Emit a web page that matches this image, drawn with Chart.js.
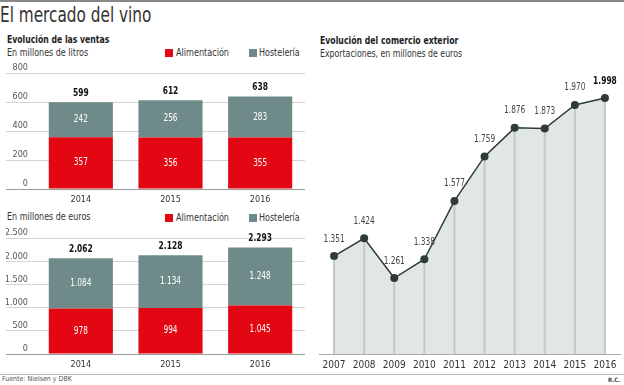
<!DOCTYPE html>
<html>
<head>
<meta charset="utf-8">
<script src="https://cdn.jsdelivr.net/npm/chart.js@4"></script>
<style>
body{margin:0;width:624px;height:385px;position:relative;background:#fff;overflow:hidden;
  font-family:"DejaVu Sans Condensed",sans-serif;color:#222}
.t{position:absolute;white-space:nowrap;line-height:1;transform-origin:left center}
.sq{position:absolute;width:8px;height:8px}
canvas{position:absolute}
</style>
</head>
<body>
<div class="t" style="left:0;top:0;width:624px;height:2px;background:#888"></div>
<div class="t" style="left:0;top:5px;font-size:21px;color:#333;transform:scaleX(0.81)">El mercado del vino</div>

<div class="t" style="left:7px;top:34px;font-size:11px;font-weight:bold;transform:scaleX(0.78)">Evolución de las ventas</div>
<div class="t" style="left:7px;top:48px;font-size:10px;color:#333;transform:scaleX(0.89)">En millones de litros</div>
<div class="sq" style="left:165px;top:49px;background:#e30613"></div>
<div class="t" style="left:176px;top:48px;font-size:10px;color:#333;transform:scaleX(0.9)">Alimentación</div>
<div class="sq" style="left:249px;top:49px;background:#6e8b8a"></div>
<div class="t" style="left:259px;top:48px;font-size:10px;color:#333;transform:scaleX(0.89)">Hostelería</div>

<div class="t" style="left:7px;top:212px;font-size:10px;color:#333;transform:scaleX(0.89)">En millones de euros</div>
<div class="sq" style="left:165px;top:214px;background:#e30613"></div>
<div class="t" style="left:176px;top:213px;font-size:10px;color:#333;transform:scaleX(0.9)">Alimentación</div>
<div class="sq" style="left:249px;top:214px;background:#6e8b8a"></div>
<div class="t" style="left:259px;top:213px;font-size:10px;color:#333;transform:scaleX(0.89)">Hostelería</div>

<div class="t" style="left:320px;top:35px;font-size:11px;font-weight:bold;transform:scaleX(0.785)">Evolución del comercio exterior</div>
<div class="t" style="left:320px;top:49px;font-size:10px;color:#333;transform:scaleX(0.87)">Exportaciones, en millones de euros</div>

<canvas id="litros" width="310" height="145" style="left:0;top:60px"></canvas>
<canvas id="euros" width="310" height="145" style="left:0;top:225px"></canvas>
<canvas id="export" width="312" height="302" style="left:312px;top:70px"></canvas>

<div class="t" style="left:0;top:374px;width:624px;height:1px;background:#bbb"></div>
<div class="t" style="left:2px;top:376px;font-size:7px;color:#555">Fuente: Nielsen y DBK</div>
<div class="t" style="left:608px;top:377px;font-size:6px;font-weight:bold;color:#444">R.C.</div>

<script>
const years = ['2014', '2015', '2016']
const litrosAlim = [357, 356, 355]
const litrosHost = [242, 256, 283]
const litrosTicks = [0, 200, 400, 600, 800]
const eurosAlim = [978, 994, 1045]
const eurosHost = [1084, 1134, 1248]
const eurosTicks = [0, 500, 1000, 1500, 2000, 2500]
const expYears = ['2007', '2008', '2009', '2010', '2011', '2012', '2013', '2014', '2015', '2016']
const exportaciones = [1351, 1424, 1261, 1338, 1577, 1759, 1876, 1873, 1970, 1998]

const FONT = '"DejaVu Sans Condensed",sans-serif'
const RED = '#e30613'
const GREY = '#6e8b8a'
Chart.defaults.font.family = FONT

// spanish thousands separator
const fmt = v => String(v).replace(/\B(?=(\d{3})+(?!\d))/g, '.')

// the original font is narrower, squeeze canvas text a bit
function squeezed(ctx, txt, x, y, sx) {
  ctx.save()
  ctx.translate(x, y)
  ctx.scale(sx, 1)
  ctx.fillText(txt, 0, 0)
  ctx.restore()
}

const barLabels = {
  id: 'barLabels',
  afterDatasetsDraw(chart) {
    const ctx = chart.ctx
    const sets = chart.data.datasets
    ctx.save()
    ctx.textAlign = 'center'
    ctx.textBaseline = 'middle'
    sets.forEach((ds, d) => {
      chart.getDatasetMeta(d).data.forEach((bar, i) => {
        ctx.font = '10px ' + FONT
        ctx.fillStyle = '#fff'
        squeezed(ctx, fmt(ds.data[i]), bar.x, (bar.y + bar.base) / 2, 0.82)
      })
    })
    chart.getDatasetMeta(sets.length - 1).data.forEach((bar, i) => {
      let total = sets.reduce((s, ds) => s + ds.data[i], 0)
      ctx.font = 'bold 11px ' + FONT
      ctx.fillStyle = '#111'
      squeezed(ctx, fmt(total), bar.x, bar.y - 9, 0.76)
    })
    ctx.restore()
  }
}

function makeBars(id, alim, host, ticks) {
  new Chart(document.getElementById(id), {
    type: 'bar',
    data: {
      labels: years,
      datasets: [
        { label: 'Alimentación', data: alim, backgroundColor: RED },
        { label: 'Hostelería', data: host, backgroundColor: GREY }
      ]
    },
    options: {
      responsive: false,
      animation: false,
      layout: { padding: { top: 13, right: 5, left: 6 } },
      categoryPercentage: 1,
      barPercentage: 0.715,
      plugins: { legend: { display: false }, tooltip: { enabled: false } },
      scales: {
        x: {
          stacked: true,
          grid: { display: false, drawTicks: false },
          border: { display: false },
          ticks: { padding: 5, color: '#333', font: { size: 9 } },
          afterFit: s => { s.height = 16 }
        },
        y: {
          stacked: true,
          min: 0,
          max: ticks[ticks.length - 1],
          afterBuildTicks: s => { s.ticks = ticks.map(v => ({ value: v })) },
          grid: { color: c => c.tick && c.tick.value === 0 ? '#999' : '#d4d4d4', tickLength: 30 },
          border: { display: false },
          ticks: { crossAlign: 'near', labelOffset: -5, padding: -22, color: '#555', font: { size: 9 }, callback: v => fmt(v) },
          afterFit: s => { s.width = 30 }
        }
      }
    },
    plugins: [barLabels]
  })
}

makeBars('litros', litrosAlim, litrosHost, litrosTicks)
makeBars('euros', eurosAlim, eurosHost, eurosTicks)

const pointLabels = {
  id: 'pointLabels',
  afterDatasetsDraw(chart) {
    const ctx = chart.ctx
    const pts = chart.getDatasetMeta(0).data
    ctx.save()
    ctx.textAlign = 'center'
    ctx.textBaseline = 'middle'
    pts.forEach((p, i) => {
      let last = i === pts.length - 1
      ctx.font = (last ? 'bold 11px ' : '10px ') + FONT
      ctx.fillStyle = last ? '#111' : '#444'
      squeezed(ctx, fmt(exportaciones[i]), p.x, p.y - 17, last ? 0.76 : 0.82)
    })
    ctx.restore()
  }
}

new Chart(document.getElementById('export'), {
  type: 'bar',
  data: {
    labels: expYears,
    datasets: [
      {
        type: 'line', data: exportaciones, borderColor: '#2e3b38', borderWidth: 1.5,
        pointRadius: 4, pointBackgroundColor: '#2e3b38', pointBorderWidth: 0,
        fill: 'start', backgroundColor: '#e1e7e6', tension: 0, clip: false
      },
      { type: 'bar', data: exportaciones, backgroundColor: '#c3cbca', barThickness: 1.5 }
    ]
  },
  options: {
    responsive: false,
    animation: false,
    layout: { padding: { top: 20, left: 7, right: 1 } },
    plugins: { legend: { display: false }, tooltip: { enabled: false }, filler: { drawTime: 'beforeDatasetsDraw' } },
    scales: {
      x: {
        offset: true,
        grid: { display: false, drawTicks: false },
        border: { color: '#aaa', width: 1 },
        ticks: { padding: 5, color: '#333', font: { size: 10 } },
        afterFit: s => { s.height = 18 }
      },
      y: { display: false, min: 950, max: 2031 }
    }
  },
  plugins: [pointLabels]
})
</script>
</body>
</html>
